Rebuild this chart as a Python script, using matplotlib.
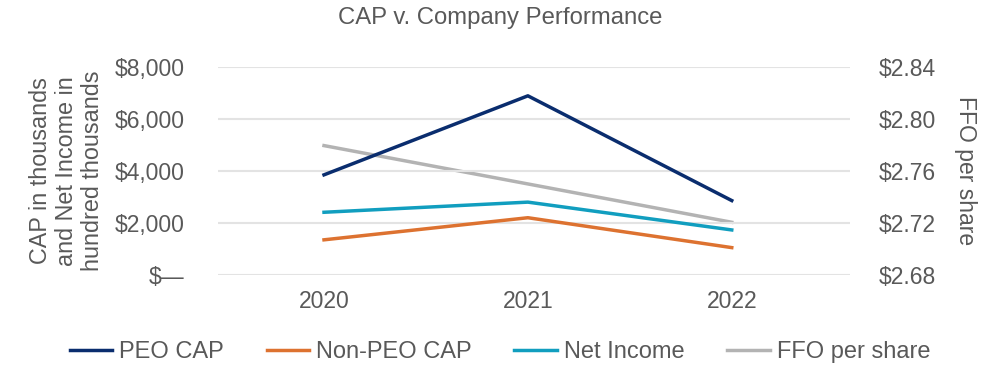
import matplotlib.pyplot as plt
from matplotlib.ticker import FuncFormatter, MultipleLocator
from matplotlib.lines import Line2D

plt.rcParams['font.family'] = ['Liberation Sans', 'DejaVu Sans']

years = ['2020', '2021', '2022']
peo_cap = [3850, 6890, 2860]
non_peo_cap = [1350, 2200, 1050]
net_income = [2410, 2800, 1730]
ffo_per_share = [2.7795, 2.750, 2.7205]

c_peo = '#0a2d6e'
c_non = '#dd7230'
c_net = '#119ebf'
c_ffo = '#b3b3b3'
txt = '#595959'
fs = 16.5

fig = plt.figure(figsize=(10, 3.7), dpi=100)
ax = fig.add_axes([0.218, 0.257, 0.632, 0.562])
ax2 = ax.twinx()

x = range(len(years))
ax.plot(x, peo_cap, color=c_peo, lw=2.5, zorder=3)
ax.plot(x, non_peo_cap, color=c_non, lw=2.5, zorder=3)
ax.plot(x, net_income, color=c_net, lw=2.5, zorder=3)
ax2.plot(x, ffo_per_share, color=c_ffo, lw=2.5)

ax.set_zorder(ax2.get_zorder() + 1)
ax.patch.set_visible(False)

ax.set_xlim(-0.52, 2.58)
ax.set_ylim(0, 8000)
ax.yaxis.set_major_locator(MultipleLocator(2000))
ax.yaxis.set_major_formatter(FuncFormatter(lambda v, p: '$\u2014' if v == 0 else f'${v:,.0f}'))
ax2.set_ylim(2.68, 2.84)
ax2.set_yticks([2.68, 2.72, 2.76, 2.80, 2.84])
ax2.yaxis.set_major_formatter(FuncFormatter(lambda v, p: f'${v:.2f}'))

ax.set_xticks(list(x))
ax.set_xticklabels(years)

ax.grid(axis='y', color='#e3e3e3', lw=1.5)
ax.set_axisbelow(True)
for a in (ax, ax2):
    for s in a.spines.values():
        s.set_visible(False)
    a.tick_params(length=0, labelsize=fs, colors=txt)
ax.tick_params(axis='x', pad=11)
ax.tick_params(axis='y', pad=24)
ax2.tick_params(axis='y', pad=21)

ax.set_ylabel('CAP in thousands\nand Net Income in\nhundred thousands', fontsize=16.8,
              color=txt, linespacing=1.15, labelpad=8)
ax2.set_ylabel('FFO per share', fontsize=fs, color=txt, rotation=270, labelpad=29)

fig.suptitle('CAP v. Company Performance', fontsize=17.2, color=txt, y=0.98)

handles = [Line2D([], [], color=c, lw=2.5) for c in (c_peo, c_non, c_net, c_ffo)]
labels = ['PEO CAP', 'Non-PEO CAP', 'Net Income', 'FFO per share']
fig.legend(handles, labels, loc='center', bbox_to_anchor=(0.5, 0.048), ncol=4,
           frameon=False, fontsize=17, labelcolor=txt, handlelength=1.8,
           handletextpad=0.3, columnspacing=1.8)

fig.savefig('out.png', dpi=100)
